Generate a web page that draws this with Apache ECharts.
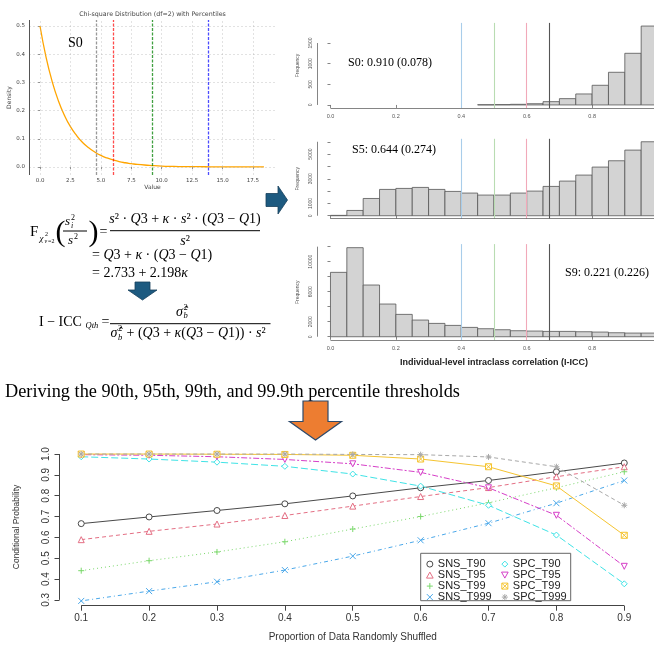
<!DOCTYPE html>
<html><head><meta charset="utf-8">
<script src="https://cdn.jsdelivr.net/npm/echarts@6/dist/echarts.min.js"></script>
<style>html,body{margin:0;padding:0;background:#fff}#c{width:654px;height:645px}</style>
</head><body><div id="c"></div>
<script>
// ---------- Chi-square panel ----------
const chiX = [0,0.5,1,1.5,2,2.5,3,3.5,4,4.5,5,5.5,6,6.5,7,7.5,8,9,10,11,12,13,14,15,16,17,18.4];
const chiY = [0.5,0.389,0.303,0.236,0.184,0.143,0.112,0.087,0.068,0.053,0.041,0.032,0.025,0.019,0.015,0.012,0.009,0.006,0.003,0.002,0.001,0.001,0.0005,0.0003,0.0002,0.0001,0.0001];
const chiXTicks = [0,2.5,5,7.5,10,12.5,15,17.5];
const chiYTicks = [0,0.1,0.2,0.3,0.4,0.5];
const chiPercentiles = [4.605, 5.991, 9.210, 13.816];
const chiPercentileColors = ['rgba(128,128,128,0.8)','rgba(255,0,0,0.7)','rgba(0,128,0,0.75)','rgba(0,0,255,0.7)'];

// ---------- Histograms (I-ICC) ----------
const binEdges = [0,0.05,0.1,0.15,0.2,0.25,0.3,0.35,0.4,0.45,0.5,0.55,0.6,0.65,0.7,0.75,0.8,0.85,0.9,0.95,1.0];
const s0Counts = [null,null,null,null,null,null,null,null,null,5,8,15,30,80,153,266,476,791,1251,1911];
const s5Counts = [30,430,1400,2135,2216,2297,2135,1973,1838,1676,1676,1838,2000,2378,2811,3297,3946,4459,5324,6000];
const s9Counts = [8578,11867,6889,4356,2978,2222,1778,1511,1244,1067,933,800,756,711,711,667,622,533,489,489];
const histXTicks = [0,0.2,0.4,0.6,0.8,1.0];
const s0YTicks = [0,500,1000,1500];
const s0YLabels = [0,500,1000,1500];
const s5YTicks = [0,1000,2000,3000,4000,5000,6000];
const s5YLabels = [0,1000,3000,5000];
const s9YTicks = [0,2000,4000,6000,8000,10000,12000];
const s9YLabels = [0,2000,6000,10000];
const iccThresholds = [0.4, 0.5, 0.605, 0.668];
const iccThresholdColors = ['#a9cdea','#b9dcb2','#f1a9b9','#555555'];
const histLabels = ['S0: 0.910 (0.078)','S5: 0.644 (0.274)','S9: 0.221 (0.226)'];

// ---------- Conditional probability lines ----------
const props = [0.1,0.2,0.3,0.4,0.5,0.6,0.7,0.8,0.9];
const probYTicks = [0.3,0.4,0.5,0.6,0.7,0.8,0.9,1.0];
const SNS_T90  = [0.666,0.698,0.729,0.761,0.799,0.838,0.873,0.915,0.957];
const SNS_T95  = [0.589,0.629,0.664,0.705,0.750,0.796,0.839,0.891,0.939];
const SNS_T99  = [0.440,0.488,0.530,0.579,0.640,0.700,0.766,0.838,0.915];
const SNS_T999 = [0.295,0.342,0.387,0.443,0.510,0.586,0.668,0.764,0.873];
const SPC_T90  = [0.987,0.976,0.961,0.941,0.904,0.846,0.754,0.611,0.377];
const SPC_T95  = [0.997,0.994,0.987,0.974,0.953,0.912,0.838,0.706,0.461];
const SPC_T99  = [1.000,1.000,0.999,0.998,0.994,0.976,0.939,0.847,0.610];
const SPC_T999 = [1.000,1.000,1.000,1.000,0.998,0.997,0.986,0.939,0.754];
const seriesNames = ['SNS_T90','SNS_T95','SNS_T99','SNS_T999','SPC_T90','SPC_T95','SPC_T99','SPC_T999'];
const seriesValues = [SNS_T90,SNS_T95,SNS_T99,SNS_T999,SPC_T90,SPC_T95,SPC_T99,SPC_T999];

// ---------- styles ----------
const lineColors = ['#4a4a4a','#e46f84','#7bd86c','#4aa8ea','#3fe3e6','#d63fc8','#f5c430','#a8a8a8'];
const lineDash = ['solid',[4,3],[1,3],[1,3,4,3],[7,3],[2,2,6,2],'solid',[4,3]];
const symbols = [
  'path://M5,0A5,5 0 1,1 5,10A5,5 0 1,1 5,0Z',
  'path://M5,0L10,9L0,9Z',
  'path://M0,5L10,5M5,0L5,10',
  'path://M0,0L10,10M10,0L0,10',
  'path://M5,0L10,5L5,10L0,5Z',
  'path://M0,0L10,0L5,9Z',
  'path://M0,0L10,0L10,10L0,10ZM0,0L10,10M10,0L0,10',
  'path://M0,5L10,5M5,0L5,10M1.5,1.5L8.5,8.5M8.5,1.5L1.5,8.5'
];
const SERIF = '"Liberation Serif", "DejaVu Serif", serif';
const SANS = '"Liberation Sans", Arial, sans-serif';
const DJ = '"DejaVu Sans", sans-serif';

const chart = echarts.init(document.getElementById('c'), null, {renderer:'canvas'});

function histY(counts){ const m = Math.max(...counts.filter(v=>v!=null)); return [-0.04*m, 1.04*m]; }
const h0 = histY(s0Counts), h5 = histY(s5Counts), h9 = histY(s9Counts);

const grids = [
  {left:29, top:20, width:247, height:155},
  {left:317.4, top:22.9, width:353.2, height:85.2},
  {left:317.4, top:138.8, width:353.2, height:79.9},
  {left:317.4, top:244.1, width:353.2, height:96.2},
  {left:59.5, top:448.2, width:586.5, height:157.5}
].map(g => Object.assign({outerBoundsMode:'none', containLabel:false}, g));

const fmt1 = v => v.toFixed(1);
const fmtInt = v => String(Math.round(v));

function histXAxis(idx, showLabels, name){
  return {gridIndex:idx, type:'value', min:-0.04, max:1.04,
    axisLine:{show:false}, splitLine:{show:false},
    axisTick:{customValues:histXTicks, length:3, lineStyle:{color:'#666', width:0.8}},
    axisLabel:{show:showLabels, customValues:histXTicks, formatter:fmt1, fontSize:5.5, margin:5, color:'#555', fontFamily:SANS},
    name: name || '', nameLocation:'middle', nameGap:18,
    nameTextStyle:{fontSize:9, fontWeight:'bold', fontFamily:SANS, color:'#222'}};
}
function histYAxis(idx, range, ticks, labels){
  return {gridIndex:idx, type:'value', min:range[0], max:range[1],
    axisLine:{show:false}, splitLine:{show:false},
    axisTick:{customValues:ticks, length:3, lineStyle:{color:'#666', width:0.8}},
    axisLabel:{customValues:labels, formatter:fmtInt, rotate:90, fontSize:5, margin:4, color:'#555', fontFamily:SANS},
    name:'Frequency', nameLocation:'middle', nameRotate:90, nameGap:15,
    nameTextStyle:{fontSize:5, fontFamily:SANS, color:'#555'}};
}
function histSeries(idx, counts, range, yTicks){
  const data = counts.map((c,i)=> c==null?null:[binEdges[i], binEdges[i+1], c]).filter(Boolean);
  const axisStyle = {color:'#666', width:0.8, type:'solid'};
  return {type:'custom', xAxisIndex:idx, yAxisIndex:idx, data,
    renderItem:(params, api) => {
      const p0 = api.coord([api.value(0), api.value(2)]);
      const p1 = api.coord([api.value(1), 0]);
      return {type:'rect', shape:{x:p0[0], y:p0[1], width:p1[0]-p0[0], height:p1[1]-p0[1]},
        style:{fill:'#d3d3d3', stroke:'#555', lineWidth:0.8}};
    },
    markLine:{silent:true, symbol:'none', label:{show:false}, animation:false,
      data:[
        ...iccThresholds.map((v,i)=>({xAxis:v, lineStyle:{color:iccThresholdColors[i], width:1.1, type:'solid'}})),
        [{coord:[histXTicks[0], range[0]], lineStyle:axisStyle},{coord:[histXTicks[histXTicks.length-1], range[0]]}],
        [{coord:[-0.04, yTicks[0]], lineStyle:axisStyle},{coord:[-0.04, yTicks[yTicks.length-1]]}]
      ]}
  };
}

const chiGridStyle = {color:'rgba(170,170,170,0.55)', width:0.6, type:[2,2]};

const lineSeries = seriesNames.map((n,i)=>({
  name:n, type:'line', xAxisIndex:4, yAxisIndex:4,
  data: props.map((p,j)=>[p, seriesValues[i][j]]),
  symbol: symbols[i], symbolSize:6, showSymbol:true,
  lineStyle:{color:lineColors[i], width:1, type:lineDash[i]},
  itemStyle:{color:'#fff', borderColor:lineColors[i], borderWidth:1},
  emphasis:{disabled:true}, animation:false
}));

function T(x, y, text, size, o){
  o = o || {};
  return {type:'text', x, y, rotation:o.rot||0, z:100, silent:true,
    style:{text, fill:o.color||'#000',
      font:(o.italic?'italic ':'')+(o.bold?'bold ':'')+size+'px '+(o.family||SERIF),
      align:o.align||'left', verticalAlign:'middle', rich:o.rich}};
}
const mrich = (sz) => ({v:{fontStyle:'italic', fontSize:sz, fontFamily:SERIF}, n:{fontSize:sz, fontFamily:SERIF}});
function L(x1,y1,x2,y2,w){ return {type:'line', z:100, silent:true, shape:{x1,y1,x2,y2}, style:{stroke:'#000', lineWidth:w||1}}; }
function P(points, fill, stroke, w){ return {type:'polygon', z:100, silent:true, shape:{points}, style:{fill, stroke, lineWidth:w}}; }

const graphics = [
  T(152.5, 14, 'Chi-square Distribution (df=2) with Percentiles', 6.3, {family:DJ, color:'#444', align:'center'}),
  T(68, 43, 'S0', 14),
  // formula line 1
  T(30, 232, 'F', 15),
  T(39.5, 238.5, 'χ', 9, {italic:true}),
  T(45, 234, '2', 6),
  T(44.5, 241.5, 'v', 6, {italic:true}),
  T(48, 241.5, '=2', 6),
  T(55.5, 233, '(', 30),
  T(65, 222, 's', 13, {italic:true}),
  T(71, 218, '2', 8),
  T(71, 226, 'i', 8, {italic:true}),
  L(63, 231, 87, 231, 1),
  T(68, 240.5, 's', 13, {italic:true}),
  T(74, 236.5, '2', 8),
  T(88.5, 233, ')', 30),
  T(99.5, 232, '=', 14),
  T(185, 219.5, '{v|s}{n|² · }{v|Q}{n|3 + }{v|κ}{n| · }{v|s}{n|² · (}{v|Q}{n|3 − }{v|Q}{n|1)}', 14, {align:'center', rich:mrich(14)}),
  L(110, 230.7, 260, 230.7, 1),
  T(185, 241.5, '{v|s}{n|²}', 14, {align:'center', rich:mrich(14)}),
  // line 2, 3
  T(92, 255, '{n|= }{v|Q}{n|3 + }{v|κ}{n| · (}{v|Q}{n|3 − }{v|Q}{n|1)}', 14, {rich:mrich(14)}),
  T(92, 273, '{n|= 2.733 + 2.198}{v|κ}', 14, {rich:mrich(14)}),
  // down arrow
  P([[135,282],[150,282],[150,290],[157,290],[142.5,300],[128,290],[135,290]], '#1d5a80', '#163f5a', 0.8),
  // I-ICC formula
  T(39, 322, 'I − ICC', 14),
  T(85.5, 326, 'Qth', 8.5, {italic:true}),
  T(101.5, 322, '=', 14),
  T(176, 312, 'σ̂', 14, {italic:true}),
  T(183.5, 316, 'b', 8.5, {italic:true}),
  T(183.5, 307.5, '2', 8.5),
  L(110, 323.7, 270.5, 323.7, 1),
  T(110.5, 333.5, 'σ̂', 14, {italic:true}),
  T(118, 337.5, 'b', 8.5, {italic:true}),
  T(118, 329, '2', 8.5),
  T(123, 333.5, '{n| + (}{v|Q}{n|3 + }{v|κ}{n|(}{v|Q}{n|3 − }{v|Q}{n|1)) · }{v|s}{n|²}', 14, {rich:mrich(14)}),
  // right arrow
  P([[266,193.5],[278,193.5],[278,186],[287.5,200],[278,214],[278,206.5],[266,206.5]], '#1d5a80', '#163f5a', 0.8),
  // histogram labels
  T(348, 63, histLabels[0], 12),
  T(352, 150, histLabels[1], 12),
  T(565, 273, histLabels[2], 12),
  // middle caption
  T(5, 392, 'Deriving the 90th, 95th, 99th, and 99.9th percentile thresholds', 18.3),
  // orange arrow
  P([[303,401],[328,401],[328,421.5],[341.5,421.5],[315.5,440],[289.5,421.5],[303,421.5]], '#ed7d31', '#2e4a6b', 1.2),
  // legend box
  {type:'rect', z:1, silent:true, shape:{x:420.7, y:553.3, width:150, height:47.4}, style:{fill:'none', stroke:'#666', lineWidth:1}}
];

function legendFor(names, left){
  return {orient:'vertical', left, top:558.6, padding:0, itemGap:0, itemWidth:8, itemHeight:6,
    selectedMode:false, z:50,
    itemStyle:{borderWidth:1},
    textStyle:{fontSize:11, fontFamily:SANS, color:'#222', lineHeight:9.3, padding:[0,0,0,-1]},
    data: names.map(n=>({name:n, icon:symbols[seriesNames.indexOf(n)]}))};
}

const option = {
  animation:false,
  backgroundColor:'#fff',
  grid: grids,
  xAxis: [
    {gridIndex:0, type:'value', min:-0.904, max:19.39,
      axisLine:{show:false}, splitLine:{show:false},
      axisTick:{customValues:chiXTicks, length:2, lineStyle:{color:'#444', width:0.6}},
      axisLabel:{customValues:chiXTicks, formatter:fmt1, fontSize:5.5, margin:3, color:'#444', fontFamily:DJ},
      name:'Value', nameLocation:'middle', nameGap:9, nameTextStyle:{fontSize:6, fontFamily:DJ, color:'#444'}},
    histXAxis(1, true),
    histXAxis(2, false),
    histXAxis(3, true, 'Individual-level intraclass correlation (I-ICC)'),
    {gridIndex:4, type:'value', min:0.068, max:0.932,
      axisLine:{show:false}, splitLine:{show:false},
      axisTick:{customValues:props, length:5, lineStyle:{color:'#444'}},
      axisLabel:{customValues:props, formatter:fmt1, fontSize:10, margin:8, color:'#333', fontFamily:SANS},
      name:'Proportion of Data Randomly Shuffled', nameLocation:'middle', nameGap:27,
      nameTextStyle:{fontSize:10, fontFamily:SANS, color:'#333'}}
  ],
  yAxis: [
    {gridIndex:0, type:'value', min:-0.0284, max:0.5213,
      axisLine:{show:false}, splitLine:{show:false},
      axisTick:{customValues:chiYTicks, length:2, lineStyle:{color:'#444', width:0.6}},
      axisLabel:{customValues:chiYTicks, formatter:fmt1, fontSize:5.5, margin:4, color:'#444', fontFamily:DJ},
      name:'Density', nameLocation:'middle', nameRotate:90, nameGap:12, nameTextStyle:{fontSize:6, fontFamily:DJ, color:'#444'}},
    histYAxis(1, h0, s0YTicks, s0YLabels),
    histYAxis(2, h5, s5YTicks, s5YLabels),
    histYAxis(3, h9, s9YTicks, s9YLabels),
    {gridIndex:4, type:'value', min:0.272, max:1.028,
      axisLine:{show:false}, splitLine:{show:false},
      axisTick:{customValues:probYTicks, length:5, lineStyle:{color:'#444'}},
      axisLabel:{customValues:probYTicks, formatter:fmt1, rotate:90, fontSize:10, margin:8, color:'#333', fontFamily:SANS},
      name:'Conditional Probability', nameLocation:'middle', nameRotate:90, nameGap:38,
      nameTextStyle:{fontSize:8.5, fontFamily:SANS, color:'#333'}}
  ],
  legend: [
    legendFor(seriesNames.slice(0,4), 426),
    legendFor(seriesNames.slice(4), 501)
  ],
  series: [
    {type:'line', xAxisIndex:0, yAxisIndex:0, data:[], silent:true,
      markLine:{silent:true, symbol:'none', label:{show:false}, animation:false,
        data:[
          ...chiXTicks.map(v=>({xAxis:v, lineStyle:chiGridStyle})),
          ...chiYTicks.map(v=>({yAxis:v, lineStyle:chiGridStyle})),
          {xAxis:-0.904, lineStyle:{color:'#555', width:1, type:'solid'}},
          {yAxis:-0.0284, lineStyle:{color:'#555', width:1, type:'solid'}}
        ]}},
    {type:'line', xAxisIndex:0, yAxisIndex:0, data:chiX.map((x,i)=>[x, chiY[i]]),
      smooth:true, showSymbol:false, silent:true,
      lineStyle:{color:'#ffa500', width:1.3},
      markLine:{silent:true, symbol:'none', label:{show:false}, animation:false,
        data: chiPercentiles.map((v,i)=>({xAxis:v, lineStyle:{color:chiPercentileColors[i], width:1.3, type:[3,1.5]}}))}},
    histSeries(1, s0Counts, h0, s0YTicks),
    histSeries(2, s5Counts, h5, s5YTicks),
    histSeries(3, s9Counts, h9, s9YTicks),
    {type:'line', xAxisIndex:4, yAxisIndex:4, data:[], silent:true,
      markLine:{silent:true, symbol:'none', label:{show:false}, animation:false,
        data:[
          [{coord:[props[0], 0.272], lineStyle:{color:'#444', width:1, type:'solid'}},{coord:[props[props.length-1], 0.272]}],
          [{coord:[0.068, probYTicks[0]], lineStyle:{color:'#444', width:1, type:'solid'}},{coord:[0.068, probYTicks[probYTicks.length-1]]}]
        ]}},
    ...lineSeries
  ],
  graphic: graphics
};
chart.setOption(option);
</script></body></html>
